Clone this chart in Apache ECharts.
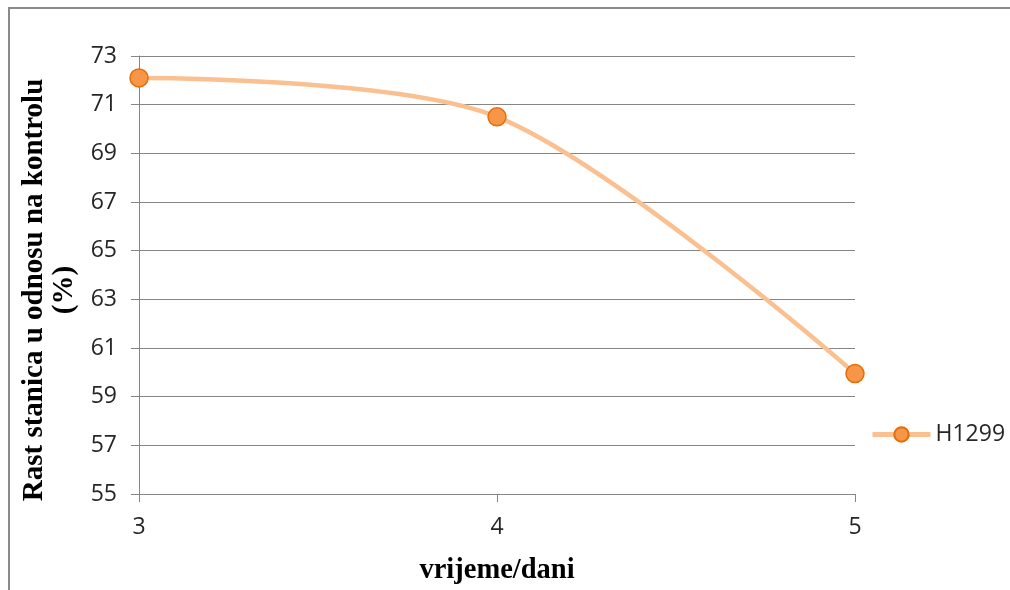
<!DOCTYPE html>
<html><head><meta charset="utf-8">
<script src="https://cdn.jsdelivr.net/npm/echarts@6/dist/echarts.min.js"></script>
<style>html,body{margin:0;padding:0;background:#fff}#c{width:1010px;height:590px}</style>
</head><body><div id="c"></div>
<script>
const days = [3, 4, 5];
const h1299 = [72.1, 70.5, 59.95];
const seriesName = 'H1299';
const xTitle = 'vrijeme/dani';
const yTitle = 'Rast stanica u odnosu na kontrolu\n(%)';

const chart = echarts.init(document.getElementById('c'), null, {renderer: 'canvas'});
const tickFont = {fontFamily: 'Open Sans, Noto Sans, sans-serif', fontSize: 23, color: '#262626'};
chart.setOption({
  animation: false,
  graphic: [{type: 'rect', shape: {x: 9, y: 8, width: 1100, height: 700}, style: {fill: 'none', stroke: '#8a8a8a', lineWidth: 2}, silent: true}],
  grid: {left: 139, top: 56, right: 155, bottom: 96},
  xAxis: {
    type: 'value', min: 3, max: 5, interval: 1,
    name: xTitle, nameLocation: 'middle', nameGap: 62,
    nameTextStyle: {fontFamily: 'Liberation Serif', fontWeight: 'bold', fontSize: 28.5, color: '#000'},
    axisLine: {show: true, lineStyle: {color: '#868686', width: 1}},
    axisTick: {show: true, length: 8, lineStyle: {color: '#868686'}},
    axisLabel: Object.assign({margin: 22}, tickFont),
    splitLine: {show: false}
  },
  yAxis: {
    type: 'value', min: 55, max: 73, interval: 2,
    name: yTitle, nameLocation: 'middle', nameGap: 54, nameRotate: 90,
    nameTextStyle: {fontFamily: 'Liberation Serif', fontWeight: 'bold', fontSize: 29, color: '#000', lineHeight: 30, align: 'center', padding: [0, 30, 0, 0]},
    axisLine: {show: true, lineStyle: {color: '#868686', width: 1}},
    axisTick: {show: true, length: 8, lineStyle: {color: '#868686'}},
    axisLabel: Object.assign({margin: 22}, tickFont),
    splitLine: {show: true, lineStyle: {color: '#868686', width: 1}}
  },
  legend: {
    left: 865, top: 418, itemWidth: 58, itemHeight: 18, itemGap: 6,
    textStyle: {fontFamily: 'Open Sans, Noto Sans, sans-serif', fontSize: 23, color: '#262626'},
    lineStyle: {width: 5},
    data: [{name: seriesName}]
  },
  series: [{
    name: seriesName, type: 'line', smooth: 0.3,
    data: days.map((d, i) => [d, h1299[i]]),
    symbol: 'circle', symbolSize: 18,
    lineStyle: {color: '#FAC090', width: 4.5},
    itemStyle: {color: '#F79646', borderColor: '#E46C0A', borderWidth: 1.5}
  }]
});
</script></body></html>
